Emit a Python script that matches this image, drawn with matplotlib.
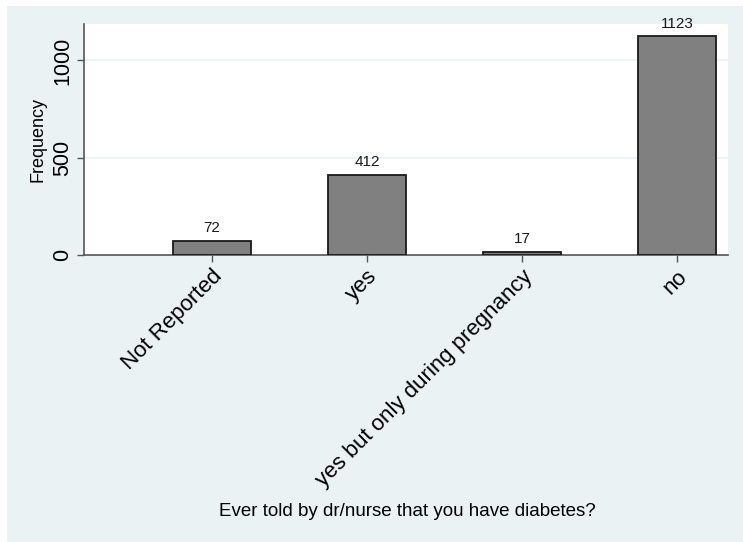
import matplotlib
matplotlib.use("Agg")
import matplotlib.pyplot as plt
from matplotlib.patches import Rectangle

plt.rcParams['font.family'] = ['Liberation Sans', 'DejaVu Sans']

# dati
categorie = ['Not Reported', 'yes', 'yes but only during pregnancy', 'no']
frequenze = [72, 412, 17, 1123]
yticks = [0, 500, 1000]

sfondo = '#eaf2f3'

fig = plt.figure(figsize=(7.43, 5.42), dpi=100)
fig.patch.set_facecolor('white')
# cornice azzurrina stile Stata
fig.patches.append(Rectangle((7 / 743, 0), 1, 1 - 6 / 542, transform=fig.transFigure,
                             facecolor=sfondo, edgecolor='none', zorder=-5))

ax = fig.add_axes([84 / 743, 1 - 255 / 542, (728 - 84) / 743, (255 - 24) / 542])
ax.set_zorder(2)
ax.set_facecolor('white')

x = list(range(len(categorie)))
ax.bar(x, frequenze, width=0.5, color='#808080', edgecolor='#1a1a1a', linewidth=1.3, zorder=3)

for xi, v in zip(x, frequenze):
    ax.annotate(str(v), (xi, v), xytext=(0, 4), textcoords='offset points',
                ha='center', va='bottom', fontsize=11, color='#1a1a1a')

ax.set_xlim(-0.826, 3.33)
ax.set_ylim(0, 1187)

ax.set_yticks(yticks)
ax.set_yticklabels([str(t) for t in yticks], rotation=90, va='center', fontsize=15.5)
ax.set_xticks(x)
ax.set_xticklabels(categorie, rotation=45, ha='right', rotation_mode='anchor', fontsize=16)

for t in yticks[1:]:
    ax.axhline(t, color=sfondo, linewidth=1.2, zorder=1)

ax.tick_params(axis='both', direction='out', length=5, width=1, color='#555555', pad=3)
for s in ['top', 'right']:
    ax.spines[s].set_visible(False)
for s in ['left', 'bottom']:
    ax.spines[s].set_color('#555555')
    ax.spines[s].set_linewidth(1.2)

ax.set_ylabel('Frequency', fontsize=13, labelpad=4)
fig.text(0.5 * (84 + 728) / 743 + 1.5 / 743, 1 - 512 / 542, 'Ever told by dr/nurse that you have diabetes?',
         ha='center', va='center', fontsize=13.5)

fig.savefig('out.png', dpi=100)
